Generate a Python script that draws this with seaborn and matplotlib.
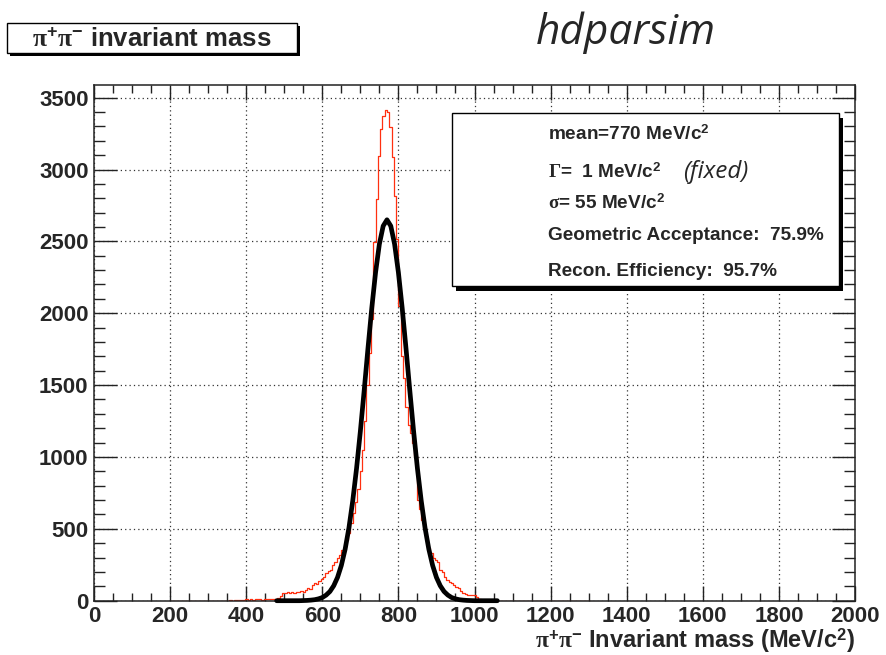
import numpy as np
import pandas as pd
import seaborn as sns
import matplotlib.pyplot as plt
from matplotlib.patches import Rectangle

# red histogram: reconstructed pi+pi- mass, 6 MeV bins from 200 to 1304 MeV
bin_edges = list(range(200, 1305, 6))
counts = [
    0, 0, 0, 0, 0, 0, 0, 0, 0, 0,
    0, 0, 0, 0, 0, 0, 0, 0, 0, 0,
    0, 0, 0, 0, 0, 0, 4, 0, 6, 3,
    8, 2, 5, 9, 6, 10, 7, 12, 9, 11,
    8, 13, 10, 12, 15, 11, 14, 22, 35, 52,
    55, 58, 54, 60, 57, 62, 58, 66, 63, 74,
    88, 84, 110, 122, 118, 136, 152, 168, 190, 205,
    214, 245, 270, 300, 318, 350, 375, 420, 470, 540,
    610, 690, 780, 900, 1050, 1250, 1500, 1720, 1960, 2494,
    2795, 3097, 3282, 3375, 3417, 3403, 3294, 3085, 2818, 2517,
    2050, 1700, 1550, 1350, 1220, 1164, 1100, 1004, 700, 640,
    560, 490, 420, 364, 335, 300, 280, 271, 213, 202,
    165, 144, 130, 121, 110, 93, 85, 69, 55, 48,
    40, 40, 38, 40, 24, 12, 8, 5, 3, 2,
    0, 0, 0, 0, 0, 0, 0, 0, 0, 0,
    0, 0, 0, 0, 0, 0, 0, 0, 0, 0,
    0, 0, 0, 0, 0, 0, 0, 0, 0, 0,
    0, 0, 0, 0, 0, 0, 0, 0, 0, 0,
    0, 0, 0, 0,
]

# black fit curve, read every 10 MeV
fit_mass = np.arange(480, 1061, 10)
fit_counts = [
    0, 0, 0, 0, 0, 0, 0, 1, 2, 4, 7, 13, 22, 39, 64, 104, 162, 245, 358, 507,
    695, 920, 1178, 1461, 1755, 2035, 2284, 2481, 2607, 2650,
    2607, 2481, 2284, 2035, 1755, 1461, 1178, 920, 695, 507, 358, 245, 162,
    104, 64, 39, 22, 13, 7, 4, 2, 1, 0, 0, 0, 0, 0, 0, 0,
]

x_ticks = [0, 200, 400, 600, 800, 1000, 1200, 1400, 1600, 1800, 2000]
y_ticks = [0, 500, 1000, 1500, 2000, 2500, 3000, 3500]

stats_lines = [
    r"mean=770 MeV/c$^{\mathbf{2}}$",
    r"$\mathrm{\Gamma}$=  1 MeV/c$^{\mathbf{2}}$",
    r"$\mathrm{\sigma}$= 55 MeV/c$^{\mathbf{2}}$",
    "Geometric Acceptance:  75.9%",
    "Recon. Efficiency:  95.7%",
]

sns.set_style("ticks")
plt.rcParams['font.family'] = ['Liberation Sans', 'DejaVu Sans']
plt.rcParams['font.weight'] = 'bold'
plt.rcParams['mathtext.fontset'] = 'custom'
plt.rcParams['mathtext.rm'] = 'Liberation Serif'
plt.rcParams['mathtext.it'] = 'Liberation Serif:italic'
plt.rcParams['mathtext.bf'] = 'Liberation Sans:bold'
plt.rcParams['mathtext.sf'] = 'Liberation Sans'

W, H = 886, 655
fig = plt.figure(figsize=(W / 100, H / 100), dpi=100)
ax = fig.add_axes([94 / W, 1 - 600.7 / H, (855 - 94) / W, (600.7 - 84.7) / H])

hist_df = pd.DataFrame({'mass': np.array(bin_edges[:-1]) + 3, 'counts': counts})
sns.histplot(data=hist_df, x='mass', weights='counts', bins=bin_edges,
             element='step', fill=False, color='#ff3010', linewidth=0.9, ax=ax)
sns.lineplot(x=fit_mass, y=fit_counts, color='black', linewidth=3.4,
             clip_on=False, ax=ax, zorder=5)

ax.set_xlim(0, 2000)
ax.set_ylim(0, 3590)
ax.set_xticks(x_ticks)
ax.set_yticks(y_ticks)
ax.set_xticks(np.arange(0, 2001, 50), minor=True)
ax.set_yticks(np.arange(0, 3501, 100), minor=True)
ax.tick_params(which='both', direction='in', top=True, right=True,
               color='#222222', width=1)
ax.tick_params(axis='x', which='major', length=11, pad=3.5)
ax.tick_params(axis='x', which='minor', length=5.8)
ax.tick_params(axis='y', which='major', length=16.5, pad=4)
ax.tick_params(axis='y', which='minor', length=8)
ax.tick_params(labelsize=16)
ax.grid(True, which='major', color='#333333', linestyle=(0, (1, 2.5)), linewidth=0.9)
for s in ax.spines.values():
    s.set_color('#222222')
    s.set_linewidth(1.1)

ax.set_ylabel("")
ax.set_xlabel(r"$\mathrm{\pi}^{\mathbf{+}}\mathrm{\pi}^{\mathbf{-}}$ Invariant mass (MeV/c$^{\mathbf{2}}$)",
              loc='right', fontsize=17, fontweight='bold', labelpad=0)

# title box (top left)
fig.add_artist(Rectangle((10.3 / W, 1 - 56.3 / H), 289.7 / W, 30.6 / H,
                         transform=fig.transFigure, facecolor='black', edgecolor='none'))
fig.add_artist(Rectangle((7.3 / W, 1 - 53.3 / H), 289.7 / W, 30.6 / H,
                         transform=fig.transFigure, facecolor='white',
                         edgecolor='black', linewidth=1))
fig.text(152 / W, 1 - 39 / H,
         r"$\mathrm{\pi}^{\mathbf{+}}\mathrm{\pi}^{\mathbf{-}}$ invariant mass",
         ha='center', va='center', fontsize=18.5, fontweight='bold')

fig.text(626 / W, 1 - 33 / H, "hdparsim", ha='center', va='center',
         fontsize=30.5, style='italic', fontweight='normal', family='Open Sans')

# stats box
fig.add_artist(Rectangle((456 / W, 1 - 290.7 / H), 387.3 / W, 172.4 / H,
                         transform=fig.transFigure, facecolor='black', edgecolor='none'))
fig.add_artist(Rectangle((451.7 / W, 1 - 285.7 / H), 387.3 / W, 172.4 / H,
                         transform=fig.transFigure, facecolor='white',
                         edgecolor='black', linewidth=1))
line_y = [134, 172, 203, 236, 271]
for txt, yy in zip(stats_lines, line_y):
    fig.text(548.3 / W, 1 - yy / H, txt, ha='left', va='center',
             fontsize=13.7, fontweight='bold')
fig.text(716 / W, 1 - 172 / H, "(fixed)", ha='center', va='center',
         fontsize=17.5, style='italic', fontweight='normal', family='Open Sans')

fig.savefig("out.png", dpi=100)
